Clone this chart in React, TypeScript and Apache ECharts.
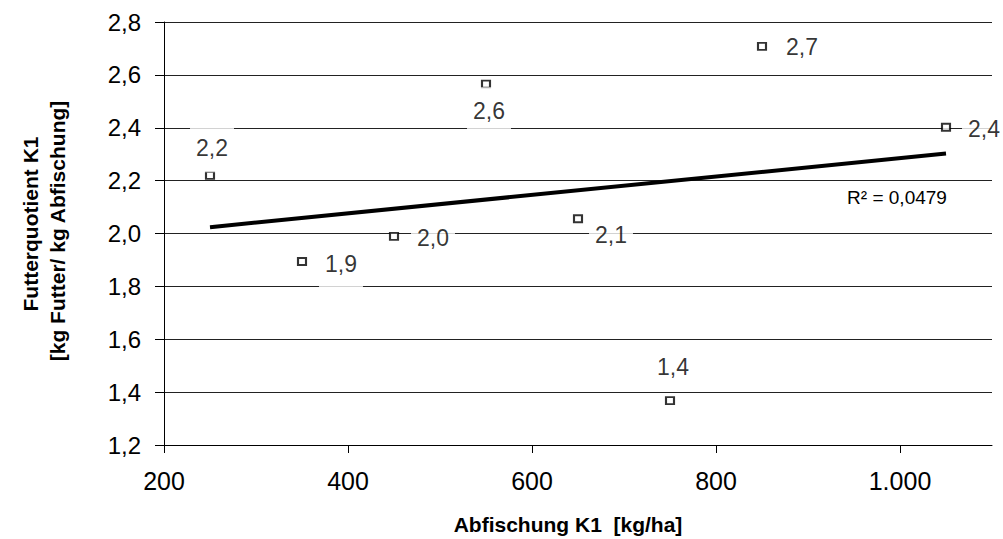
import React, { useEffect, useRef } from "react";
import * as echarts from "echarts";

// ---- data ----
const xValues: number[] = [250, 350, 450, 550, 650, 750, 850, 1050];
const yValues: number[] = [2.22, 1.894, 1.989, 2.565, 2.056, 1.368, 2.708, 2.402];
const xTickValues: number[] = [200, 400, 600, 800, 1000];
const xTitle = "Abfischung K1  [kg/ha]";
const yTitleLine1 = "Futterquotient K1";
const yTitleLine2 = "[kg Futter/ kg Abfischung]";

// ---- label placement (style config, px offsets from marker centre) ----
const labelOffsets: number[][] = [
  [2, -29], [39, 0], [39, 0], [3, 25], [33, 14], [3, -36], [40, -1], [38, 0],
];

const FONT = "'Liberation Sans', Arial, Helvetica, sans-serif";

function fmtComma(v: number, d: number): string {
  return v.toFixed(d).replace(".", ",");
}

function regression(xs: number[], ys: number[]) {
  const n = xs.length;
  const mx = xs.reduce((a, b) => a + b, 0) / n;
  const my = ys.reduce((a, b) => a + b, 0) / n;
  let sxy = 0, sxx = 0, syy = 0;
  for (let i = 0; i < n; i++) {
    sxy += (xs[i] - mx) * (ys[i] - my);
    sxx += (xs[i] - mx) ** 2;
    syy += (ys[i] - my) ** 2;
  }
  const slope = sxy / sxx;
  const intercept = my - slope * mx;
  const r2 = (sxy * sxy) / (sxx * syy);
  return { slope, intercept, r2 };
}

export default function App() {
  const ref = useRef<HTMLDivElement>(null);
  useEffect(() => {
    if (!ref.current) return;
    const chart = echarts.init(ref.current, undefined, { renderer: "svg" });
    const { slope, intercept, r2 } = regression(xValues, yValues);
    const xMin = Math.min(...xValues);
    const xMax = Math.max(...xValues);
    const trend = [
      [xMin, intercept + slope * xMin],
      [xMax, intercept + slope * xMax],
    ];
    const pad = [11, 6, 15, 6];
    const scatterData = xValues.map((x, i) => ({
      value: [x, yValues[i]],
      label: {
        offset: [labelOffsets[i][0], labelOffsets[i][1] + 2],
      },
    }));
    chart.setOption({
      animation: false,
      backgroundColor: "#fff",
      textStyle: { fontFamily: FONT },
      grid: { left: 164, right: 11, top: 22, bottom: 94, containLabel: false },
      xAxis: {
        type: "value",
        min: 200,
        max: 1100,
        interval: 200,
        axisLine: { show: true, onZero: false, lineStyle: { color: "#000", width: 1 } },
        axisTick: {
          show: true,
          length: 8,
          lineStyle: { color: "#000" },
          customValues: xTickValues,
        },
        splitLine: { show: false },
        axisLabel: {
          customValues: xTickValues,
          fontSize: 25,
          color: "#000",
          fontFamily: FONT,
          margin: 36,
          verticalAlign: "middle",
          formatter: (v: number) =>
            v >= 1000 ? Math.floor(v / 1000) + "." + String(v % 1000).padStart(3, "0") : String(v),
        },
      },
      yAxis: {
        type: "value",
        min: 1.2,
        max: 2.8,
        interval: 0.2,
        axisLine: { show: true, onZero: false, lineStyle: { color: "#000", width: 1 } },
        axisTick: { show: true, length: 9, lineStyle: { color: "#000" } },
        splitLine: { show: true, lineStyle: { color: "#222", width: 1 } },
        axisLabel: {
          fontSize: 24,
          color: "#000",
          fontFamily: FONT,
          margin: 23,
          formatter: (v: number) => fmtComma(v, 1),
        },
      },
      graphic: [
        {
          type: "text",
          x: 568,
          y: 524,
          style: {
            text: xTitle,
            font: `bold 21px ${FONT}`,
            fill: "#000",
            align: "center",
            verticalAlign: "middle",
          },
        },
        {
          type: "text",
          x: 30,
          y: 224,
          rotation: Math.PI / 2,
          style: {
            text: yTitleLine1,
            font: `bold 21px ${FONT}`,
            fill: "#000",
            align: "center",
            verticalAlign: "middle",
          },
        },
        {
          type: "text",
          x: 57,
          y: 231,
          rotation: Math.PI / 2,
          style: {
            text: yTitleLine2,
            font: `bold 21px ${FONT}`,
            fill: "#000",
            align: "center",
            verticalAlign: "middle",
          },
        },
      ],
      series: [
        {
          type: "scatter",
          z: 2,
          symbol: "rect",
          symbolSize: [8, 7],
          itemStyle: { color: "#fff", borderColor: "#000", borderWidth: 2 },
          data: scatterData,
          label: {
            show: true,
            position: "inside",
            align: "center",
            verticalAlign: "middle",
            fontSize: 23,
            lineHeight: 22,
            color: "#000",
            fontFamily: FONT,
            backgroundColor: "#fff",
            padding: pad,
            formatter: (p: any) => fmtComma(p.value[1], 1),
          },
          emphasis: { disabled: true },
        },
        {
          type: "line",
          z: 3,
          data: trend.map((pt, i) => ({
            value: pt,
            label:
              i === 1
                ? {
                    show: true,
                    position: "inside",
                    align: "center",
                    verticalAlign: "middle",
                    offset: [-49, 44],
                    fontSize: 19,
                    color: "#000",
                    fontFamily: FONT,
                    formatter: () => "R\u00b2 = " + fmtComma(r2, 4),
                  }
                : { show: false },
          })),
          showSymbol: true,
          symbol: "circle",
          symbolSize: 1,
          itemStyle: { color: "rgba(0,0,0,0)" },
          lineStyle: { color: "#000", width: 4 },
          emphasis: { disabled: true },
        },
      ],
    });
    return () => chart.dispose();
  }, []);
  return (
    <div
      ref={ref}
      style={{ position: "absolute", left: 0, top: 0, width: 1003, height: 539 }}
    />
  );
}
